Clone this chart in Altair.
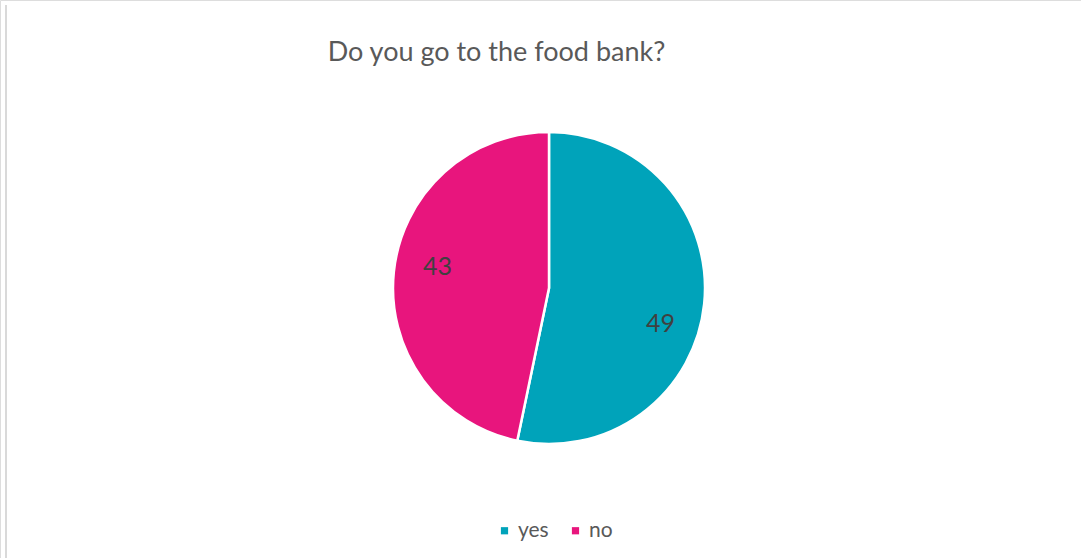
import altair as alt
import pandas as pd

categories = ["yes", "no"]
values = [49, 43]
colors = ["#00A3BA", "#E8157D"]

df = pd.DataFrame({"answer": categories, "count": values, "idx": [0, 1]})

CX, CY = 549, 288

color_enc = alt.Color(
    "answer:N",
    scale=alt.Scale(domain=categories, range=colors),
    sort=categories,
    legend=alt.Legend(
        title=None,
        orient="none",
        direction="horizontal",
        legendX=494,
        legendY=520,
        symbolType="square",
        symbolSize=52,
        symbolStrokeWidth=0,
        labelFont="Lato",
        labelFontSize=21,
        labelColor="#595959",
        columnPadding=16,
        symbolOffset=0,
        labelOffset=3,
    ),
)

pie = alt.Chart(df).mark_arc(outerRadius=156, stroke="white", strokeWidth=2.5).encode(
    theta=alt.Theta("count:Q", stack=True),
    order=alt.Order("idx:O"),
    color=color_enc,
    x=alt.value(CX),
    y=alt.value(CY),
)


def label_layer(cat, dy):
    return (
        alt.Chart(df)
        .transform_stack(stack="count", groupby=[], as_=["s0", "s1"], sort=[alt.SortField("idx")])
        .transform_calculate(mid="(datum.s0 + datum.s1) / 2")
        .transform_filter(alt.datum.answer == cat)
        .mark_text(radius=112, font="Lato", fontSize=25, color="#404040", dy=dy)
        .encode(
            theta=alt.Theta("mid:Q", stack=None),
            text="count:Q",
            x=alt.value(CX),
            y=alt.value(CY),
        )
    )


label_yes = label_layer("yes", 25)
label_no = label_layer("no", -10)

border = alt.Chart(df).mark_rule(color="#D9D9D9", strokeWidth=2).encode(
    x=alt.value(6), y=alt.value(5), y2=alt.value(558)
)

chart = alt.layer(border, pie, label_yes, label_no).properties(
    width=1081,
    height=558,
    autosize=alt.AutoSizeParams(type="none"),
    padding=0,
    title=alt.TitleParams(
        "Do you go to the food bank?",
        font="Lato",
        fontSize=27,
        fontWeight="normal",
        color="#595959",
        anchor="middle",
        dx=-44,
        dy=92,
        baseline="alphabetic",
    ),
).configure_view(stroke=None).configure(background="white")

chart.save("out.html", embed_options={"renderer": "svg", "actions": False})
